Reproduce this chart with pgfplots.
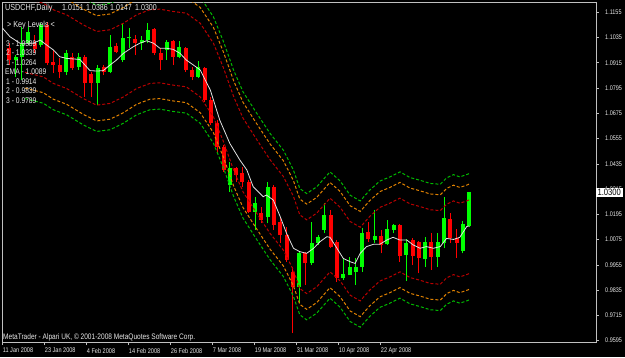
\documentclass[border=0pt]{standalone}
\usepackage{pgfplots}
\pgfplotsset{compat=1.18}
\usepackage{pgfplotstable}
\usepackage{fontspec}
\setmainfont{Liberation Sans}
\newfontfamily\mt[FakeStretch=0.82]{Liberation Sans}
\definecolor{bull}{RGB}{0,255,0}
\definecolor{bear}{RGB}{255,0,0}
\definecolor{frame}{RGB}{192,192,192}
\definecolor{txt}{RGB}{232,232,232}
\definecolor{bandR}{RGB}{185,0,0}
\definecolor{bandO}{RGB}{225,130,0}
\definecolor{bandG}{RGB}{0,185,0}
\definecolor{emaW}{RGB}{225,225,225}

\pgfplotstableread{
i o h l c
1 1.0928 1.0952 1.0849 1.0944
2 1.0944 1.1087 1.0833 1.1008
3 1.1008 1.1087 1.1000 1.1063
5 1.1000 1.1102 1.0992 1.1095
9 1.0873 1.0976 1.0857 1.0963
11 1.0897 1.0963 1.0881 1.0944
14 1.0818 1.0904 1.0715 1.0892
16 1.0873 1.1047 1.0865 1.0992
18 1.0928 1.1102 1.0920 1.1031
19 1.1031 1.1079 1.0984 1.1036
21 1.1011 1.1042 1.0976 1.1023
22 1.1023 1.1105 1.1008 1.1071
25 1.0976 1.1023 1.0928 1.1015
27 1.0944 1.1020 1.0936 1.0992
30 1.0849 1.0925 1.0841 1.0897
35 1.0335 1.0445 1.0303 1.0414
39 1.0208 1.0279 1.0121 1.0247
41 1.0184 1.0350 1.0152 1.0327
46 0.9852 1.0018 0.9772 1.0010
48 0.9962 1.0160 0.9954 1.0058
49 1.0058 1.0097 1.0050 1.0089
50 1.0121 1.0247 1.0105 1.0192
53 0.9891 0.9986 0.9883 0.9912
54 0.9907 0.9994 0.9907 0.9946
55 0.9923 0.9986 0.9860 0.9946
56 0.9946 1.0129 0.9923 1.0108
58 1.0073 1.0216 1.0058 1.0092
60 1.0054 1.0168 1.0050 1.0124
61 1.0121 1.0149 1.0105 1.0143
63 1.0002 1.0076 0.9879 1.0061
66 0.9981 1.0086 0.9946 1.0065
68 0.9994 1.0105 0.9946 1.0065
69 1.0061 1.0279 1.0034 1.0176
72 1.0022 1.0165 1.0010 1.0149
73 1.0140 1.0301 1.0137 1.0300
}\bulltab

\pgfplotstableread{
i o h l c
0 1.0984 1.1008 1.0904 1.0928
4 1.1008 1.1047 1.0960 1.0979
6 1.1095 1.1110 1.0904 1.0912
7 1.0920 1.0976 1.0865 1.0904
8 1.0904 1.0936 1.0841 1.0873
10 1.0944 1.0960 1.0881 1.0889
12 1.0941 1.0952 1.0754 1.0818
13 1.0862 1.0873 1.0754 1.0821
15 1.0897 1.0904 1.0857 1.0873
17 1.0995 1.1008 1.0960 1.0968
20 1.1028 1.1047 1.0952 1.1008
23 1.1077 1.1079 1.0952 1.0960
24 1.0960 1.0984 1.0881 1.0928
26 1.1020 1.1023 1.0904 1.0944
28 1.0984 1.0992 1.0873 1.0881
29 1.0881 1.0897 1.0833 1.0849
31 1.0892 1.0897 1.0730 1.0738
32 1.0738 1.0754 1.0619 1.0627
33 1.0627 1.0643 1.0485 1.0517
34 1.0517 1.0525 1.0398 1.0406
36 1.0414 1.0422 1.0350 1.0382
37 1.0390 1.0422 1.0327 1.0350
38 1.0350 1.0358 1.0200 1.0208
40 1.0200 1.0231 1.0152 1.0168
42 1.0327 1.0335 1.0121 1.0145
43 1.0160 1.0176 1.0058 1.0097
44 1.0097 1.0137 0.9970 0.9978
45 0.9923 0.9946 0.9631 0.9852
47 1.0013 1.0018 0.9860 0.9962
51 1.0192 1.0216 1.0034 1.0042
52 1.0065 1.0073 0.9875 0.9891
57 1.0113 1.0160 1.0065 1.0076
59 1.0092 1.0121 1.0010 1.0050
62 1.0143 1.0149 0.9970 0.9997
64 1.0073 1.0081 0.9954 0.9997
65 1.0065 1.0070 0.9915 0.9986
67 1.0065 1.0105 0.9931 0.9994
70 1.0171 1.0200 1.0058 1.0081
71 1.0081 1.0124 0.9989 1.0061
}\beartab

% centre line of the key-level bands
\pgfplotstableread{
i c
2.5 1.1045
5.4 1.1023
7.0 1.0992
9.1 1.0968
11.75 1.0920
13.86 1.0889
15.98 1.0897
18.1 1.0928
20.2 1.0968
22.3 1.0992
23.9 1.0995
26.0 1.0984
28.1 1.0976
30.3 1.0928
32.4 1.0833
34.0 1.0715
35.6 1.0580
37.1 1.0477
39.3 1.0374
41.4 1.0279
43.5 1.0200
45.1 1.0105
46.1 1.0018
47.2 0.9994
48.8 1.0026
50.9 1.0097
52.5 1.0054
54.1 0.9986
55.7 0.9959
57.2 1.0010
58.8 1.0053
60.4 1.0073
62.0 1.0097
63.6 1.0070
65.2 1.0057
66.8 1.0042
68.4 1.0038
69.4 1.0068
70.5 1.0084
71.5 1.0073
72.6 1.0084
73.0 1.0089
}\bandtab

\pgfplotstableread{
i e
-1.06 1.1079
0.1 1.1039
1.7 1.1008
3.8 1.1008
4.9 1.1023
5.9 1.1000
7.0 1.0976
8.0 1.0944
9.1 1.0936
11.2 1.0931
12.8 1.0878
13.9 1.0876
14.9 1.0878
16.0 1.0905
17.0 1.0928
18.1 1.0960
19.7 1.0992
20.7 1.1008
21.8 1.1020
22.9 1.1008
23.9 1.0984
25.0 1.0984
26.0 1.0979
27.1 1.0960
28.1 1.0928
29.2 1.0905
30.3 1.0881
31.9 1.0786
33.4 1.0643
35.0 1.0532
36.6 1.0453
37.7 1.0406
38.7 1.0327
40.3 1.0279
40.8 1.0287
41.9 1.0263
43.0 1.0184
44.0 1.0105
45.1 1.0034
46.1 1.0018
47.2 1.0010
48.3 1.0034
49.3 1.0065
50.4 1.0089
50.9 1.0086
52.0 1.0034
53.0 0.9986
54.1 0.9970
54.9 0.9962
55.7 1.0010
56.7 1.0042
57.8 1.0053
58.8 1.0053
59.9 1.0073
60.9 1.0086
62.0 1.0073
63.1 1.0073
64.1 1.0050
65.2 1.0034
66.2 1.0042
67.3 1.0034
68.4 1.0042
69.4 1.0081
70.5 1.0076
71.5 1.0086
72.6 1.0137
73.0 1.0140
}\ematab

\pgfplotsset{
  candle/.style 2 args={draw=none, mark=none, forget plot,
    error bars/.cd, y dir=plus, y explicit, error mark=none,
    error bar style={draw=#1, line width=#2}},
  band/.style={#1, line width=1pt, dash pattern=on 3pt off 2pt},
}

\begin{document}
\begin{tikzpicture}[x=1pt,y=1pt]
\fill[black] (0,0) rectangle (625,357);
\begin{axis}[
  at={(2pt,15pt)}, anchor=south west, scale only axis,
  width=594pt, height=340pt,
  xmin=-1.164, xmax=93.12, ymin=0.95887, ymax=1.1204,
  axis line style={draw=frame, line width=0.7pt},
  tick style={draw=frame, line width=0.7pt},
  tick align=outside, major tick length=3pt,
  xtick pos=left, ytick pos=right, yticklabel pos=right,
  xtick={-1.052,5.615,12.282,18.949,25.616,32.283,38.950,45.617,52.284,58.951},
  xticklabels={11 Jan 2008,23 Jan 2008,4 Feb 2008,14 Feb 2008,26 Feb 2008,7 Mar 2008,19 Mar 2008,31 Mar 2008,10 Apr 2008,22 Apr 2008},
  ytick={0.9595,0.9715,0.9835,0.9955,1.0075,1.0195,1.0315,1.0435,1.0555,1.0675,1.0795,1.0915,1.1035,1.1155},
  yticklabels={0.9595,0.9715,0.9835,0.9955,1.0075,1.0195,1.0315,1.0435,1.0555,1.0675,1.0795,1.0915,1.1035,1.1155},
  xticklabel style={font=\mt\fontsize{6.8}{7}\selectfont, text=txt, anchor=north west, inner sep=0pt, yshift=-3pt},
  yticklabel style={font=\mt\fontsize{6.7}{7}\selectfont, text=txt, anchor=west, inner sep=0pt, xshift=6pt},
  clip=true,
]
% wicks
\addplot[candle={bull}{1pt}] table[x=i, y=l, y error plus expr=\thisrow{h}-\thisrow{l}] {\bulltab};
\addplot[candle={bear}{1pt}] table[x=i, y=l, y error plus expr=\thisrow{h}-\thisrow{l}] {\beartab};
% bodies
\addplot[candle={bull}{4pt}] table[x=i, y=o, y error plus expr=\thisrow{c}-\thisrow{o}] {\bulltab};
\addplot[candle={bear}{4pt}] table[x=i, y=c, y error plus expr=\thisrow{o}-\thisrow{c}] {\beartab};
% key level bands
\addplot[band=bandG] table[x=i, y expr=\thisrow{c}+0.0300] {\bandtab};
\addplot[band=bandO] table[x=i, y expr=\thisrow{c}+0.0250] {\bandtab};
\addplot[band=bandR] table[x=i, y expr=\thisrow{c}+0.0175] {\bandtab};
\addplot[band=bandR] table[x=i, y expr=\thisrow{c}-0.0175] {\bandtab};
\addplot[band=bandO] table[x=i, y expr=\thisrow{c}-0.0250] {\bandtab};
\addplot[band=bandG] table[x=i, y expr=\thisrow{c}-0.0300] {\bandtab};
% EMA line
\addplot[emaW, line width=0.8pt, mark=none] table[x=i, y=e] {\ematab};
\coordinate (pbox) at (axis cs:93.12,1.0300);
\end{axis}
\node[fill=white, text=black, font=\mt\fontsize{9.3}{9}\selectfont, inner sep=0pt, minimum width=27pt, minimum height=9pt, anchor=west] at ([xshift=-0.5pt]pbox) {1.0300};
% texts
\begin{scope}[every node/.style={text=txt, inner sep=0pt, anchor=base west}]
\node[font=\mt\fontsize{8.8}{9}\selectfont] at (5,346.5) {USDCHF,Daily};
\node[font=\mt\fontsize{8.6}{9}\selectfont] at (62,346.5) {1.0151};
\node[font=\mt\fontsize{8.6}{9}\selectfont] at (86,346.5) {1.0386};
\node[font=\mt\fontsize{8.6}{9}\selectfont] at (110,346.5) {1.0147};
\node[font=\mt\fontsize{8.6}{9}\selectfont] at (135,346.5) {1.0300};
\node[font=\mt\fontsize{8.8}{9}\selectfont] at (7,329) {> Key Levels <};
\node[font=\mt\fontsize{8.2}{9}\selectfont] at (6,310.5) {3 - 1.0389};
\node[font=\mt\fontsize{8.2}{9}\selectfont] at (6,301) {2 - 1.0339};
\node[font=\mt\fontsize{8.2}{9}\selectfont] at (6,291.3) {1 - 1.0264};
\node[font=\mt\fontsize{8.2}{9}\selectfont] at (5,282) {EMA - 1.0089};
\node[font=\mt\fontsize{8.2}{9}\selectfont] at (6,272.5) {1 - 0.9914};
\node[font=\mt\fontsize{8.2}{9}\selectfont] at (6,263) {2 - 0.9839};
\node[font=\mt\fontsize{8.2}{9}\selectfont] at (6,253.3) {3 - 0.9789};
\node[font=\mt\fontsize{8.0}{9}\selectfont] at (3,18) {MetaTrader - Alpari UK, © 2001-2008 MetaQuotes Software Corp.};
\end{scope}
\pgfresetboundingbox
\path[use as bounding box] (0,0) rectangle (625,357);
\end{tikzpicture}
\end{document}
